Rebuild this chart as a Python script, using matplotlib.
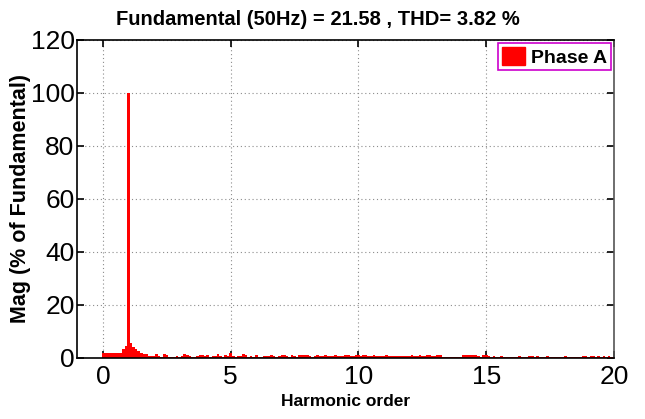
#!/usr/bin/env python3
"""FFT spectrum of phase A current, bars at 0.1 harmonic resolution."""

import numpy as np
import matplotlib
matplotlib.use("Agg")
import matplotlib.pyplot as plt
from matplotlib.patches import Patch

fundamental = 21.58
thd = 3.82

# harmonic order axis, 0.1 step from 0 to 20
order = np.round(np.arange(0, 201) * 0.1, 1)

# magnitude in % of fundamental, one row per harmonic
mag = [
    1.7, 1.7, 1.7, 1.7, 1.7, 1.7, 1.7, 1.7, 3.3, 4.3,      # 0.0 - 0.9
    100, 5.5, 4.2, 3.3, 2.6, 2.0, 1.3, 1.6, 0.7, 0.6,      # 1.0 - 1.9
    0.8, 1.6, 0.6, 0.5, 1.5, 1.0, 0.5, 0.5, 0.5, 0.6,      # 2.0
    0.5, 0.7, 1.4, 1.1, 0.6, 0.5, 0.5, 0.7, 1.2, 1.0,      # 3.0
    0.6, 1.2, 0.5, 0.7, 0.6, 1.4, 0.7, 0.5, 1.2, 0.6,      # 4.0
    1.7, 0.7, 0.5, 0.6, 0.7, 1.4, 1.0, 0.5, 0.6, 0.5,      # 5.0
    1.1, 0.5, 0.5, 0.7, 0.8, 0.6, 1.0, 0.8, 0.5, 0.6,      # 6.0
    1.0, 0.9, 0.6, 0.5, 1.1, 0.8, 0.5, 1.2, 1.2, 1.2,      # 7.0
    1.2, 0.6, 0.5, 0.7, 0.9, 0.7, 0.8, 1.0, 0.7, 0.6,      # 8.0
    0.8, 1.0, 0.7, 0.8, 0.6, 0.9, 1.0, 0.8, 0.7, 0.9,      # 9.0
    1.0, 0.8, 1.1, 0.9, 0.7, 0.8, 0.9, 0.7, 0.8, 0.7,      # 10.0
    0.8, 0.9, 0.7, 0.6, 0.8, 0.7, 0.6, 0.7, 0.8, 0.7,      # 11.0
    0.7, 0.9, 0.8, 0.7, 0.9, 0.8, 0.7, 1.0, 0.9, 0.8,      # 12.0
    0.6, 1.0, 0.9, 0.5, 0.3, 0.2, 0.2, 0.2, 0.2, 0.4,      # 13.0
    0.3, 0.9, 1.0, 1.0, 1.1, 1.0, 1.0, 0.8, 0.5, 0.9,      # 14.0
    1.0, 0.6, 0.5, 0.6, 0.4, 0.5, 0.6, 0.5, 0.4, 0.5,      # 15.0
    0.5, 0.4, 0.5, 0.6, 0.5, 0.4, 0.5, 0.8, 0.6, 0.5,      # 16.0
    0.7, 0.5, 0.4, 0.5, 0.6, 0.5, 0.4, 0.5, 0.5, 0.4,      # 17.0
    0.5, 0.6, 0.5, 0.4, 0.5, 0.5, 0.4, 0.5, 0.8, 0.6,      # 18.0
    0.5, 0.8, 0.6, 0.5, 0.8, 0.5, 0.6, 0.5, 0.8, 0.5,      # 19.0
    0.5,
]

xticks = [0, 5, 10, 15, 20]
yticks = [0, 20, 40, 60, 80, 100, 120]

plt.rcParams['font.family'] = ["Liberation Sans", "DejaVu Sans"]


def main():
    fig = plt.figure(figsize=(6.45, 4.19), dpi=100)
    ax = fig.add_axes([0.120, 0.146, 0.832, 0.759])

    ax.bar(order, mag, width=0.1, color="#ff0000", linewidth=0, align="center")

    ax.set_xlim(-1, 20)
    ax.set_ylim(0, 120)
    ax.set_xticks(xticks)
    ax.set_yticks(yticks)
    ax.tick_params(direction="in", labelsize=19, length=5, width=1.2,
                   top=True, right=True)
    ax.tick_params(axis="x", pad=5)
    ax.tick_params(axis="y", pad=2)
    ax.grid(True, linestyle=(0, (1, 2.5)), color="#8c8c8c", linewidth=0.8)
    ax.set_axisbelow(True)
    for side in ax.spines.values():
        side.set_linewidth(1.2)
    ax.spines["right"].set_color("#555555")

    fig.text(0.493, 0.975, "Fundamental (50Hz) = %.2f , THD= %.2f %%" % (fundamental, thd),
             fontsize=14.5, fontweight="bold", ha="center", va="top")
    ax.set_xlabel("Harmonic order", fontsize=12.5, fontweight="bold", labelpad=4)
    ax.set_ylabel("Mag (% of Fundamental)", fontsize=15.5, fontweight="bold",
                  labelpad=0)

    leg = ax.legend(handles=[Patch(color="#ff0000", label="Phase A")],
                    loc="upper right", prop={"weight": "bold", "size": 14},
                    fancybox=False, framealpha=1, borderaxespad=0.15,
                    handlelength=1.2, handleheight=1.1, handletextpad=0.3,
                    borderpad=0.2)
    leg.get_frame().set_edgecolor("#cc00cc")
    leg.get_frame().set_linewidth(1.2)

    fig.savefig("out.png", dpi=100)


if __name__ == "__main__":
    main()
